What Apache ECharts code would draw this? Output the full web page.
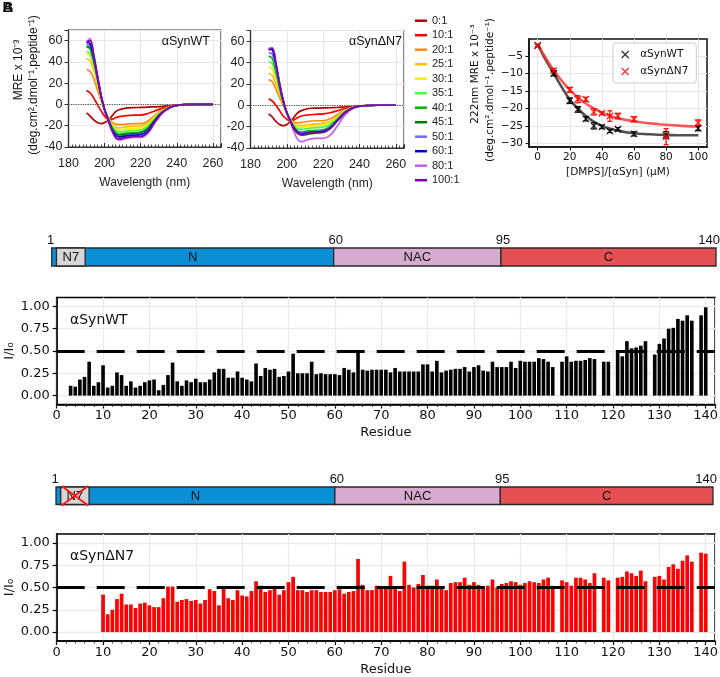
<!DOCTYPE html>
<html><head><meta charset="utf-8">
<script src="https://cdn.jsdelivr.net/npm/echarts@6/dist/echarts.min.js"></script>
<style>html,body{margin:0;padding:0;background:#fff}#c{width:720px;height:677px}</style>
</head><body><div id="c"></div>
<script>
// ---------------- DATA ----------------
const cdWavelengths = [190,192,194,196,198,200,202,204,206,208,212,216,220,224,228,232,236,240,250,260];
const cdRatios = ['0:1','10:1','20:1','25:1','30:1','35:1','40:1','45:1','50:1','60:1','80:1','100:1'];
const cdWT = [
  [-8,-11,-14.5,-17,-18,-17,-15,-11,-7,-5,-3.5,-3,-2.8,-2.5,-2.2,-1.8,-1.2,-0.6,0,0],
  [13,11,6,0,-6,-11,-14,-14,-12.5,-11.5,-10.5,-10,-10,-8.5,-6,-3.5,-1.8,-0.6,0,0],
  [33,31,24,14,4,-5,-12,-16.5,-18.5,-19,-18.5,-18,-18,-15.5,-10,-5,-2.2,-0.8,0,0],
  [43,41,32,19,6,-5,-13,-18.5,-21.5,-22,-21,-20.5,-20,-17.5,-11,-5.5,-2.4,-0.8,0,0],
  [48,46,36,22,7,-5,-13,-19.5,-23,-24,-23,-22.5,-22,-19,-12,-6,-2.6,-0.8,0,0],
  [50,48,38,23,8,-5,-13,-20.5,-24.5,-26,-25,-24.5,-24,-20.5,-13,-6.5,-2.7,-0.8,0,0],
  [54,52,41,25,8,-5,-14,-21.5,-26.5,-28,-27,-26.5,-26,-22,-14,-7,-2.8,-0.8,0,0],
  [55,53,42,25,8,-5,-14,-22,-27,-29,-28,-27.5,-27,-23,-14.5,-7,-2.8,-0.8,0,0],
  [57,55,43,26,9,-5,-14,-22.5,-28,-30,-29,-28.5,-28,-24,-15,-7.5,-3,-0.8,0,0],
  [59,57,44,27,9,-5,-14,-23,-28.5,-30.5,-29.5,-29,-28.5,-24.5,-15,-7.5,-3,-0.8,0,0],
  [59,62,47,28,9,-5,-15,-24.5,-31.5,-33.5,-32,-31,-31,-27,-17,-8,-3.2,-0.9,0,0],
  [58,60,46,27,9,-5,-15,-24,-30.5,-32.5,-31,-30,-30,-26,-16,-8,-3.1,-0.9,0,0]
];
const cdDN7 = [
  [-8,-11,-15,-18,-19,-18,-15,-11,-7,-5,-3,-2.7,-2.5,-2.3,-2,-1.6,-1.2,-0.6,0,0],
  [6,4,0,-5,-10,-13,-15,-13.5,-11.5,-10,-9,-8.5,-8,-7,-5,-3,-1.5,-0.5,0,0],
  [24,22,15,7,0,-7,-13,-16,-16.5,-16,-15,-14.5,-14.5,-12.5,-8.5,-4.5,-2,-0.7,0,0],
  [30,28,20,10,1,-7,-13.5,-17.5,-19,-19,-18,-17.5,-17,-15,-10,-5,-2.2,-0.8,0,0],
  [36,34,25,13,2,-7,-14,-18.5,-20,-20.5,-19.5,-19,-18.5,-16,-11,-5.5,-2.4,-0.8,0,0],
  [41,39,29,15,3,-7,-14,-19.5,-22,-22.5,-21.5,-21,-20.5,-17.5,-12,-6,-2.5,-0.8,0,0],
  [46,44,32,16,3,-7,-14.5,-20.5,-24,-25,-24,-23.5,-23,-19.5,-13,-6.5,-2.6,-0.8,0,0],
  [52,52,38,20,4,-7,-15,-22,-26.5,-28,-27,-26,-25.5,-21.5,-14,-7,-2.8,-0.8,0,0],
  [49,48,35,18,4,-7,-15,-21.5,-25,-26,-25,-24.5,-24,-20.5,-13.5,-6.5,-2.7,-0.8,0,0],
  [53,52,38,20,4,-7,-15,-21.5,-25.5,-26.5,-25.5,-25,-24.5,-21,-14,-7,-2.7,-0.8,0,0],
  [53,54,40,21,5,-7,-16,-25,-32,-34,-32,-31,-31,-28,-19,-9,-3.5,-1,0,0],
  [52,53,39,20,4.5,-7,-15,-22.5,-26,-27,-26,-25.5,-25,-21.5,-14,-7,-2.8,-0.8,0,0]
];
const cdTicks = [180,200,220,240,260];

const dmpsConc = [0,10,20,25,30,35,40,45,50,60,80,100];
const mreWT = [-2.0,-10.0,-17.8,-20.3,-23.0,-25.0,-25.3,-26.5,-25.9,-27.3,-27.6,-25.7];
const mreWTErr = [0.3,0.7,0.8,0.8,0.6,0.9,0.5,0.4,0.4,0.6,1.0,0.7];
const mreDN7 = [-2.0,-9.2,-14.7,-17.4,-17.4,-21.0,-21.4,-22.2,-22.2,-23.1,-28.1,-24.1];
const mreDN7Err = [0.3,0.6,0.7,1.0,0.6,0.9,0.4,1.5,0.8,0.7,2.3,0.8];
const fitConc = [0,5,10,15,20,25,30,35,40,45,50,60,70,80,90,100];
const fitWT = [-1.7,-6.1,-10.0,-13.9,-17.5,-20.0,-22.2,-23.8,-25.0,-25.8,-26.4,-27.1,-27.4,-27.6,-27.7,-27.7];
const fitDN7 = [-1.7,-5.6,-9.1,-12.1,-14.7,-16.8,-18.6,-20.0,-21.2,-22.1,-22.8,-23.7,-24.3,-24.7,-25.0,-25.2];
const dmpsTicksX = [0,20,40,60,80,100];
const dmpsTicksY = [-30,-25,-20,-15,-10,-5];

const residues = Array.from({length: 140}, (_, i) => i + 1);
const intensityWT = [
  null,null,0.11,0.10,0.18,0.21,0.38,0.11,0.15,0.34,
  0.09,0.11,0.26,0.23,0.11,0.16,0.09,0.11,0.15,0.17,
  0.18,0.06,0.12,0.23,0.37,0.16,0.11,0.17,0.15,0.19,
  0.15,0.15,0.18,0.26,0.30,0.30,0.20,0.20,0.27,0.20,
  0.18,0.16,0.36,0.22,0.31,0.29,0.30,0.21,0.22,0.27,
  0.47,0.25,0.25,0.25,0.38,0.24,0.25,0.24,0.24,0.24,
  0.23,0.31,0.29,0.26,0.50,0.29,0.28,0.29,0.29,0.29,
  0.29,0.26,0.31,0.27,0.27,0.27,0.27,0.27,0.35,0.35,
  0.27,0.39,0.26,0.28,0.29,0.30,0.30,0.32,0.27,0.32,
  0.34,0.28,0.27,0.38,0.32,0.32,0.32,0.38,0.31,0.39,
  0.38,0.38,0.38,0.42,0.41,0.38,0.32,null,0.38,0.44,
  0.38,0.39,0.39,0.40,0.42,0.41,null,0.38,0.38,null,
  0.51,0.44,0.61,0.53,0.54,0.56,0.61,null,0.46,0.58,
  0.64,0.75,0.76,0.86,0.84,0.90,0.84,null,0.90,0.99
];
const intensityDN7 = [
  null,null,null,null,null,null,null,null,null,0.42,
  0.20,0.25,0.37,0.43,0.31,0.31,0.27,0.32,0.33,0.30,
  0.28,0.28,0.38,0.51,0.51,0.34,0.36,0.37,0.35,0.36,
  0.32,0.36,0.48,0.46,0.30,0.49,0.38,0.36,0.47,0.41,
  0.40,0.46,0.57,0.52,0.45,0.47,0.50,0.42,0.47,0.56,
  0.62,0.47,0.47,0.45,0.47,0.47,0.45,0.45,0.45,0.47,
  0.48,0.43,0.45,0.46,0.82,0.53,0.47,0.47,0.52,0.50,
  0.50,0.63,0.50,0.46,0.79,0.53,0.50,0.54,0.64,0.52,
  0.52,0.59,0.49,0.47,0.55,0.56,0.56,0.61,0.53,0.56,
  0.53,0.51,0.52,0.59,0.50,0.54,0.55,0.57,0.56,0.53,
  0.55,0.57,0.56,0.55,0.59,0.61,0.50,null,0.58,0.56,
  0.52,0.61,0.61,0.59,0.55,0.66,null,0.61,0.58,null,
  0.61,0.62,0.68,0.66,0.63,0.69,0.57,null,0.62,0.63,
  0.59,0.73,0.76,0.71,0.80,0.86,0.79,null,0.89,0.88
];
const threshold = 0.5;
const residueTicksY = [0, 0.25, 0.5, 0.75, 1.0];

const domainNames = ['N', 'NAC', 'C'];
const domainStart = [1, 60, 95];
const domainEnd = [60, 95, 140];
const n7Name = 'N7';
const n7Span = [2, 8];
const domainBoundaries = [1, 60, 95, 140];

// ---------------- STYLE ----------------
const FA = '"Liberation Sans", Arial, sans-serif';
const FN = '"Liberation Sans Narrow", "Liberation Sans", Arial, sans-serif';
const FD = '"DejaVu Sans", sans-serif';
const cdColors = ['#b00000','#ff0000','#ff8a1c','#ffc000','#f0f000','#44ff44','#00b800','#007800','#6b6bff','#0000cc','#c55ee8','#7a00a8'];
const domainColors = ['#0a8fd6', '#d7abcf', '#e55052'];
const n7Color = '#d6d6d6';
const xPath = 'path://M0,0L10,10M0,10L10,0';
const GRID_LINE = '#e6e6e6';

function zip(xs, ys) { return xs.map((x, i) => [x, ys[i]]); }
const minus = v => (v < 0 ? '\u2212' + Math.abs(v) : String(v));

// ---------------- AXES ----------------
function cdMainX(g) {
  return {gridIndex: g, type: 'value', min: 180, max: 264.5, interval: 20, position: 'bottom',
    axisLine: {show: true, onZero: false, lineStyle: {color: '#333', width: 1.2}},
    axisTick: {show: true, inside: true, length: 4, lineStyle: {color: '#333', width: 1}},
    axisLabel: {show: true, margin: 10, fontSize: 12.5, color: '#222', fontFamily: FA,
      formatter: v => (cdTicks.indexOf(v) >= 0 ? String(v) : '')},
    splitLine: {show: true, lineStyle: {color: GRID_LINE, width: 1}},
    name: 'Wavelength (nm)', nameLocation: 'middle', nameGap: 30, nameMoveOverlap: false,
    nameTextStyle: {fontSize: 12, color: '#222', fontFamily: FA}};
}
function minorX(g, min, max, step, inside) {
  return {gridIndex: g, type: 'value', min: min, max: max, interval: step, position: 'bottom',
    axisLine: {show: false, onZero: false}, axisLabel: {show: false}, splitLine: {show: false},
    axisTick: {show: true, inside: inside, length: 2.5, lineStyle: {color: '#222', width: 0.8}}};
}
function cdY(g) {
  return {gridIndex: g, type: 'value', min: -40, max: 70, interval: 20,
    axisLine: {show: true, onZero: false, lineStyle: {color: '#333', width: 1.2}},
    axisTick: {show: true, length: 4, lineStyle: {color: '#333'}},
    axisLabel: {margin: 6, fontSize: 12.5, color: '#222', fontFamily: FA,
      formatter: v => (v % 20 === 0 ? String(v) : '')},
    splitLine: {show: true, lineStyle: {color: GRID_LINE, width: 1}}};
}
function hiddenAxis(g, min, max) {
  return {gridIndex: g, type: 'value', min: min, max: max, show: false,
    axisLine: {show: false, onZero: false}, splitLine: {show: false}};
}
function resMainX(g) {
  return {gridIndex: g, type: 'value', min: 0, max: 142, interval: 10, position: 'bottom',
    axisLine: {show: true, onZero: false, lineStyle: {color: '#000', width: 1.6}},
    axisTick: {show: true, length: 4, lineStyle: {color: '#000', width: 1.2}},
    axisLabel: {margin: 5, fontSize: 13, color: '#111', fontFamily: FD,
      formatter: v => (v % 10 === 0 ? String(v) : '')},
    splitLine: {show: true, lineStyle: {color: '#ebebeb', width: 1.3}},
    name: 'Residue', nameLocation: 'middle', nameGap: 22, nameMoveOverlap: false,
    nameTextStyle: {fontSize: 13, color: '#111', fontFamily: FD}};
}
function resY(g) {
  return {gridIndex: g, type: 'value', min: -0.1, max: 1.1,
    axisLine: {show: true, onZero: false, lineStyle: {color: '#000', width: 1.6}},
    axisTick: {show: true, length: 4, customValues: residueTicksY, lineStyle: {color: '#000', width: 1.2}},
    axisLabel: {margin: 7, fontSize: 13, color: '#111', fontFamily: FD, customValues: residueTicksY,
      formatter: v => Number(v).toFixed(2)},
    splitLine: {show: true, lineStyle: {color: '#ebebeb', width: 1.3}},
    name: 'I/I\u2080', nameLocation: 'middle', nameRotate: 90, nameGap: 41, nameMoveOverlap: false,
    nameTextStyle: {fontSize: 13, color: '#111', fontFamily: FD}};
}

// ---------------- SERIES ----------------
const series = [];
[cdWT, cdDN7].forEach((rows, p) => {
  rows.forEach((row, i) => {
    const s = {type: 'line', name: cdRatios[i], xAxisIndex: p === 0 ? 0 : 2, yAxisIndex: p,
      data: zip(cdWavelengths, row), smooth: 0.35, symbol: 'none', showSymbol: false, silent: true,
      lineStyle: {width: 1.7, color: cdColors[i]}, itemStyle: {color: cdColors[i]}, z: 3};
    if (i === 0) {
      s.markLine = {silent: true, symbol: ['none', 'none'], label: {show: false},
        lineStyle: {type: 'dotted', color: '#555', width: 1.2}, data: [{yAxis: 0}]};
    }
    series.push(s);
  });
});

function errSeries(name, vals, errs, color) {
  return {type: 'custom', name: name, xAxisIndex: 4, yAxisIndex: 2, silent: true, z: 4,
    data: dmpsConc.map((c, i) => [c, vals[i] - errs[i], vals[i] + errs[i]]),
    encode: {x: 0, y: [1, 2]},
    renderItem: (params, api) => {
      const x = api.value(0);
      const a = api.coord([x, api.value(1)]), b = api.coord([x, api.value(2)]);
      const st = {stroke: color, lineWidth: 1.2};
      return {type: 'group', children: [
        {type: 'line', shape: {x1: a[0], y1: a[1], x2: b[0], y2: b[1]}, style: st},
        {type: 'line', shape: {x1: a[0] - 2.5, y1: a[1], x2: a[0] + 2.5, y2: a[1]}, style: st},
        {type: 'line', shape: {x1: b[0] - 2.5, y1: b[1], x2: b[0] + 2.5, y2: b[1]}, style: st}
      ]};
    }};
}
series.push({type: 'line', name: 'fit αSynWT', xAxisIndex: 4, yAxisIndex: 2, data: zip(fitConc, fitWT),
  smooth: true, symbol: 'none', silent: true, z: 2, lineStyle: {color: '#333', width: 2.6, opacity: 0.85}});
series.push({type: 'line', name: 'fit αSynΔN7', xAxisIndex: 4, yAxisIndex: 2, data: zip(fitConc, fitDN7),
  smooth: true, symbol: 'none', silent: true, z: 2, lineStyle: {color: '#ff3030', width: 2.6, opacity: 0.8}});
series.push(errSeries('err αSynWT', mreWT, mreWTErr, '#000'));
series.push(errSeries('err αSynΔN7', mreDN7, mreDN7Err, '#ff0000'));
series.push({type: 'scatter', name: 'αSynWT', xAxisIndex: 4, yAxisIndex: 2, data: zip(dmpsConc, mreWT),
  symbol: xPath, symbolSize: 6.5, silent: true, z: 5,
  itemStyle: {color: 'rgba(0,0,0,0)', borderColor: '#000', borderWidth: 1.3}});
series.push({type: 'scatter', name: 'αSynΔN7', xAxisIndex: 4, yAxisIndex: 2, data: zip(dmpsConc, mreDN7),
  symbol: xPath, symbolSize: 6.5, silent: true, z: 5,
  itemStyle: {color: 'rgba(255,0,0,0)', borderColor: '#ff0000', borderWidth: 1.3}});

function domainSeries(xi, yi, crossed) {
  const items = domainNames.map((n, i) => ({value: [domainStart[i], domainEnd[i]], name: n, itemStyle: {color: domainColors[i]}}));
  items.push({value: [n7Span[0], n7Span[1]], name: n7Name, itemStyle: {color: n7Color}});
  return {type: 'custom', xAxisIndex: xi, yAxisIndex: yi, silent: true, data: items,
    encode: {x: [0, 1]},
    renderItem: (params, api) => {
      const a = api.coord([api.value(0), 1]), b = api.coord([api.value(1), 0]);
      const label = items[params.dataIndex].name;
      const ch = [
        {type: 'rect', shape: {x: a[0], y: a[1], width: b[0] - a[0], height: b[1] - a[1]},
          style: {fill: api.visual('color'), stroke: '#2a2a2a', lineWidth: 1.3}},
        {type: 'text', style: {x: (a[0] + b[0]) / 2, y: (a[1] + b[1]) / 2 + 0.5, text: label,
          align: 'center', verticalAlign: 'middle', font: '13px ' + FN, fill: '#111'}}
      ];
      if (crossed && label === n7Name) {
        const st = {stroke: '#ff1a1a', lineWidth: 2};
        ch.push({type: 'line', shape: {x1: a[0] + 1, y1: a[1] - 1, x2: b[0] - 1, y2: b[1] + 1}, style: st});
        ch.push({type: 'line', shape: {x1: a[0] + 1, y1: b[1] + 1, x2: b[0] - 1, y2: a[1] - 1}, style: st});
      }
      return {type: 'group', children: ch};
    }};
}
function boundarySeries(xi, yi) {
  return {type: 'custom', xAxisIndex: xi, yAxisIndex: yi, silent: true,
    data: domainBoundaries.map(b => [b]), encode: {x: 0},
    renderItem: (params, api) => {
      const p = api.coord([api.value(0), 1]);
      const last = params.dataIndex === domainBoundaries.length - 1;
      return {type: 'text', style: {x: last ? p[0] + 4 : p[0] + (params.dataIndex === 0 ? -1 : 2), y: p[1] - 1.5,
        text: String(api.value(0)), align: last ? 'right' : 'center', verticalAlign: 'bottom',
        font: '13px ' + FN, fill: '#111'}};
    }};
}
series.push(domainSeries(5, 3, false));
series.push(boundarySeries(5, 3));
series.push(domainSeries(8, 5, true));
series.push(boundarySeries(8, 5));

function barSeries(name, xi, yi, vals, color, w) {
  return {type: 'bar', name: name, xAxisIndex: xi, yAxisIndex: yi, silent: true, barWidth: w,
    data: residues.map((r, i) => [r, vals[i]]).filter(d => d[1] !== null),
    itemStyle: {color: color},
    markLine: {silent: true, symbol: ['none', 'none'], label: {show: false},
      lineStyle: {type: [28, 12], color: '#000', width: 3}, data: [{yAxis: threshold}]}};
}
series.push(barSeries('I/I0 αSynWT', 6, 4, intensityWT, '#000', 3.6));
series.push(barSeries('I/I0 αSynΔN7', 9, 6, intensityDN7, '#ff0000', 3.7));

// ---------------- OPTION ----------------
const gridBase = {show: true, backgroundColor: 'transparent', containLabel: false, outerBoundsMode: 'none'};
const T = (x, y, text, font, align, rot) => ({type: 'text', x: x, y: y, z: 100, zlevel: 0, rotation: rot || 0,
  style: {text: text, font: font, fill: '#111', align: align || 'center', verticalAlign: 'middle'}});
const option = {
  animation: false,
  backgroundColor: '#fff',
  grid: [
    Object.assign({left: 68.5, top: 30, width: 152.5, height: 117, borderColor: '#333', borderWidth: 1.2}, gridBase),
    Object.assign({left: 250.5, top: 30.5, width: 153.5, height: 117.5, borderColor: '#333', borderWidth: 1.2}, gridBase),
    Object.assign({left: 529, top: 39, width: 178, height: 108, borderColor: '#111', borderWidth: 1.5}, gridBase),
    Object.assign({left: 51.7, top: 248, width: 664.3, height: 18}, gridBase, {show: false}),
    Object.assign({left: 56.7, top: 297.5, width: 658.3, height: 107, borderColor: '#000', borderWidth: 1.6}, gridBase),
    Object.assign({left: 56, top: 487, width: 657, height: 17.5}, gridBase, {show: false}),
    Object.assign({left: 56.7, top: 534, width: 658.3, height: 107, borderColor: '#000', borderWidth: 1.6}, gridBase)
  ],
  xAxis: [
    cdMainX(0), minorX(0, 180, 264.5, 2, true),
    cdMainX(1), minorX(1, 180, 264.5, 2, true),
    {gridIndex: 2, type: 'value', min: -5.4, max: 105.5, position: 'bottom',
      axisLine: {show: true, onZero: false, lineStyle: {color: '#111', width: 1.5}},
      axisTick: {show: true, length: 3.5, customValues: dmpsTicksX, lineStyle: {color: '#111'}},
      axisLabel: {customValues: dmpsTicksX, margin: 5, fontSize: 10.5, color: '#111', fontFamily: FD},
      splitLine: {show: true, lineStyle: {color: GRID_LINE, width: 1}},
      name: '[DMPS]/[αSyn] (μM)', nameLocation: 'middle', nameGap: 20, nameMoveOverlap: false,
      nameTextStyle: {fontSize: 10.5, color: '#111', fontFamily: FD}},
    hiddenAxis(3, 1, 140),
    resMainX(4), minorX(4, 0, 142, 2, false),
    hiddenAxis(5, 1, 140),
    resMainX(6), minorX(6, 0, 142, 2, false)
  ],
  yAxis: [
    cdY(0), cdY(1),
    {gridIndex: 2, type: 'value', min: -31.05, max: -0.15,
      axisLine: {show: true, onZero: false, lineStyle: {color: '#111', width: 1.5}},
      axisTick: {show: true, length: 3.5, customValues: dmpsTicksY, lineStyle: {color: '#111'}},
      axisLabel: {customValues: dmpsTicksY, margin: 6, fontSize: 10.5, color: '#111', fontFamily: FD, formatter: minus},
      splitLine: {show: true, lineStyle: {color: GRID_LINE, width: 1}}},
    hiddenAxis(3, 0, 1),
    resY(4),
    hiddenAxis(5, 0, 1),
    resY(6)
  ],
  legend: [
    {data: cdRatios, orient: 'vertical', left: 415, top: 14.7, padding: 0, icon: 'rect',
      itemWidth: 12, itemHeight: 2.5, itemGap: 2.5, selectedMode: false,
      textStyle: {fontSize: 11, lineHeight: 12, color: '#222', fontFamily: FA}},
    {data: [
        {name: 'αSynWT', icon: xPath, itemStyle: {color: 'rgba(0,0,0,0)', borderColor: '#000', borderWidth: 1.3}},
        {name: 'αSynΔN7', icon: xPath, itemStyle: {color: 'rgba(0,0,0,0)', borderColor: '#ff0000', borderWidth: 1.3}}
      ],
      orient: 'vertical', left: 613, top: 43, padding: [5, 8, 5, 8], itemGap: 4, itemWidth: 20, itemHeight: 7,
      backgroundColor: 'rgba(255,255,255,0.85)', borderColor: '#cccccc', borderWidth: 1, borderRadius: 3,
      selectedMode: false, textStyle: {fontSize: 10.5, lineHeight: 13, color: '#111', fontFamily: FD}}
  ],
  graphic: [
    T(8, 8, 'B', 'bold 15px ' + FA),
    T(8, 8, 'A', 'bold 15px ' + FA),
    T(19, 70, 'MRE x 10\u207B\u00B3', '12px ' + FA, 'center', Math.PI / 2),
    T(34, 85, '(deg.cm\u00B2.dmol\u207B\u00B9.peptide\u207B\u00B9)', '12px ' + FA, 'center', Math.PI / 2),
    T(210, 42, 'αSynWT', '12.5px ' + FA, 'right'),
    T(402, 42, 'αSynΔN7', '12.5px ' + FA, 'right'),
    T(475, 74, '222nm MRE x 10\u207B\u00B3', '10.5px ' + FD, 'center', Math.PI / 2),
    T(490, 90, '(deg.cm\u00B2.dmol\u207B\u00B9.peptide\u207B\u00B9)', '10.5px ' + FD, 'center', Math.PI / 2),
    T(70, 320, 'αSynWT', '14px ' + FD, 'left'),
    T(70, 556, 'αSynΔN7', '14px ' + FD, 'left')
  ],
  series: series
};
const chart = echarts.init(document.getElementById('c'), null, {renderer: 'canvas'});
chart.setOption(option);
</script></body></html>
